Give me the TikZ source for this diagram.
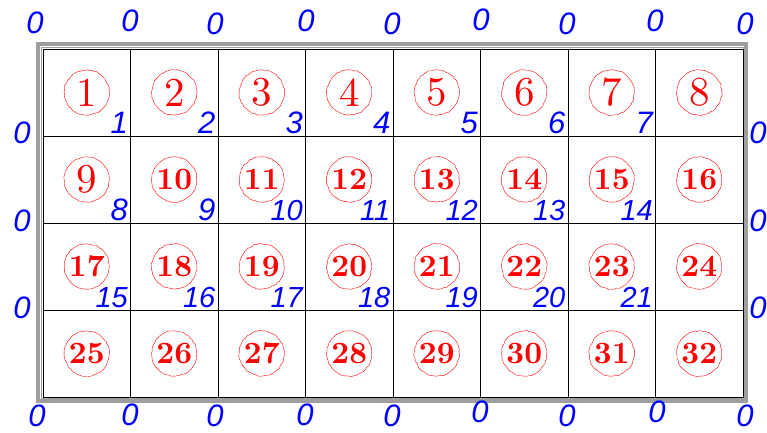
\documentclass[tikz,border=0pt]{standalone}
\usepackage{fontspec}
\usepackage{graphicx}
\newfontfamily\idxfont{Liberation Sans}
\usetikzlibrary{decorations.pathmorphing}

\newcommand{\cellone}[1]{\scalebox{4.1}{#1}}
\newcommand{\celltwo}[1]{\scalebox{3.1}{\bfseries #1}}

\begin{document}
\begin{tikzpicture}[x=1pt, y=-1pt,
    cell/.style={circle, draw=red, text=red, thin, minimum size=45pt, inner sep=0pt,
                 font=\fontsize{10}{12}\selectfont,
                 decorate, decoration={random steps, segment length=2.5pt, amplitude=0.5pt}},
    idx/.style={text=blue, inner sep=2.5pt, font=\idxfont\itshape\fontsize{29}{30}\selectfont},
    idxone/.style={idx, font=\idxfont\itshape\fontsize{31}{32}\selectfont},
    frame/.style={draw=black!38},
    gridline/.style={draw=black, line width=0.8pt}
]
\pgfmathsetseed{7}
\useasboundingbox (0,0) rectangle (767,432);

% outer frame
\draw[frame, line width=4pt] (38,43.7) rectangle (746,400.5);
\draw[frame, line width=1pt] (41.3,47) rectangle (743,398);

% grid
\draw[gridline] (43,49) rectangle (743,397);
\foreach \c in {1,...,7}
  \draw[gridline] ({43+87.5*\c},49) -- ({43+87.5*\c},397);
\foreach \r in {1,...,3}
  \draw[gridline] (43,{49+87*\r}) -- (743,{49+87*\r});

% cells
\foreach \r in {0,...,3}
  \foreach \c in {0,...,7} {
    \pgfmathtruncatemacro\n{8*\r+\c+1}
    \ifnum\n<10 \def\cs{\cellone}\else\def\cs{\celltwo}\fi
    \node[cell] (c\n) at ({86.75+87.5*\c},{92.5+87*\r}) {\cs{\n}};
  }

% inner vertex numbers
\foreach \r in {1,...,3}
  \foreach \c in {1,...,7} {
    \pgfmathtruncatemacro\n{7*(\r-1)+\c}
    \ifnum\n<10 \def\is{idxone}\else\def\is{idx}\fi
    \node[\is, anchor=south east] (v\n) at ({43+87.5*\c},{49+87*\r}) {\n};
  }

% boundary zeros
\foreach \x/\y [count=\i] in {35/23, 130/21, 215/24, 306/21, 392/24, 481/20, 567/24, 655/21, 745/24}
  \node[idxone, inner sep=0pt] (t\i) at (\x,\y) {0};
\foreach \x/\y [count=\i] in {37/416, 130/415, 215/416, 305/415, 392/416, 480/412, 567/416, 657/412, 745/416}
  \node[idxone, inner sep=0pt] (b\i) at (\x,\y) {0};
\foreach \y [count=\i] in {133, 221, 308} {
  \node[idxone, inner sep=0pt] (l\i) at (22,\y) {0};
  \node[idxone, inner sep=0pt] (r\i) at (758,\y) {0};
}
\end{tikzpicture}
\end{document}
